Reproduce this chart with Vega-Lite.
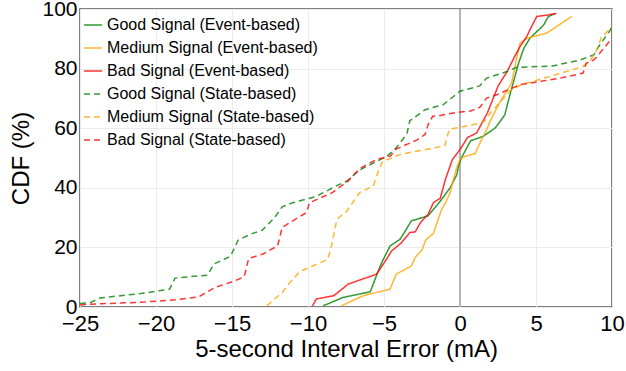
{
  "$schema": "https://vega.github.io/schema/vega-lite/v6.json",
  "width": 532,
  "height": 298,
  "autosize": "none",
  "padding": {"left": 80, "top": 9, "right": 14, "bottom": 64},
  "background": "white",
  "config": {
    "font": "Liberation Sans",
    "view": {"stroke": "#555555", "strokeWidth": 1.5},
    "axis": {
      "domain": false,
      "ticks": false,
      "grid": true,
      "gridColor": "#ececec",
      "gridWidth": 1,
      "labelColor": "black",
      "labelFontSize": 22,
      "titleColor": "black",
      "titleFontSize": 24,
      "titleFontWeight": "normal"
    }
  },
  "datasets": {
    "curves": [
      {"s": "Good Signal (Event-based)", "x": -9.0, "y": 0.4},
      {"s": "Good Signal (Event-based)", "x": -7.7, "y": 3.2},
      {"s": "Good Signal (Event-based)", "x": -5.9, "y": 5.1},
      {"s": "Good Signal (Event-based)", "x": -5.5, "y": 10.5},
      {"s": "Good Signal (Event-based)", "x": -5.15, "y": 14.9},
      {"s": "Good Signal (Event-based)", "x": -4.6, "y": 20.5},
      {"s": "Good Signal (Event-based)", "x": -3.95, "y": 22.7},
      {"s": "Good Signal (Event-based)", "x": -3.6, "y": 25.5},
      {"s": "Good Signal (Event-based)", "x": -3.2, "y": 28.9},
      {"s": "Good Signal (Event-based)", "x": -2.1, "y": 30.6},
      {"s": "Good Signal (Event-based)", "x": -1.3, "y": 35.5},
      {"s": "Good Signal (Event-based)", "x": -0.65, "y": 40},
      {"s": "Good Signal (Event-based)", "x": -0.2, "y": 44.5},
      {"s": "Good Signal (Event-based)", "x": -0.1, "y": 47.3},
      {"s": "Good Signal (Event-based)", "x": 0.1, "y": 50.1},
      {"s": "Good Signal (Event-based)", "x": 0.7, "y": 55.8},
      {"s": "Good Signal (Event-based)", "x": 1.5, "y": 57.2},
      {"s": "Good Signal (Event-based)", "x": 2.3, "y": 60},
      {"s": "Good Signal (Event-based)", "x": 2.6, "y": 62},
      {"s": "Good Signal (Event-based)", "x": 2.95, "y": 64.5},
      {"s": "Good Signal (Event-based)", "x": 3.2, "y": 69.6},
      {"s": "Good Signal (Event-based)", "x": 3.5, "y": 75.2},
      {"s": "Good Signal (Event-based)", "x": 3.85, "y": 81.8},
      {"s": "Good Signal (Event-based)", "x": 4.2, "y": 86.8},
      {"s": "Good Signal (Event-based)", "x": 4.6, "y": 90.2},
      {"s": "Good Signal (Event-based)", "x": 5.5, "y": 94.6},
      {"s": "Good Signal (Event-based)", "x": 5.8, "y": 97.4},
      {"s": "Good Signal (Event-based)", "x": 6.25, "y": 98.5},

      {"s": "Medium Signal (Event-based)", "x": -7.8, "y": 0.4},
      {"s": "Medium Signal (Event-based)", "x": -6.35, "y": 3.8},
      {"s": "Medium Signal (Event-based)", "x": -4.6, "y": 6},
      {"s": "Medium Signal (Event-based)", "x": -4.2, "y": 11},
      {"s": "Medium Signal (Event-based)", "x": -3.2, "y": 13.8},
      {"s": "Medium Signal (Event-based)", "x": -2.95, "y": 16.6},
      {"s": "Medium Signal (Event-based)", "x": -2.5, "y": 19.2},
      {"s": "Medium Signal (Event-based)", "x": -2.25, "y": 22.5},
      {"s": "Medium Signal (Event-based)", "x": -1.75, "y": 24.7},
      {"s": "Medium Signal (Event-based)", "x": -1.4, "y": 30},
      {"s": "Medium Signal (Event-based)", "x": -1.2, "y": 32.8},
      {"s": "Medium Signal (Event-based)", "x": -0.9, "y": 35.5},
      {"s": "Medium Signal (Event-based)", "x": -0.65, "y": 38.4},
      {"s": "Medium Signal (Event-based)", "x": -0.45, "y": 42.5},
      {"s": "Medium Signal (Event-based)", "x": -0.2, "y": 47},
      {"s": "Medium Signal (Event-based)", "x": 0.0, "y": 49.5},
      {"s": "Medium Signal (Event-based)", "x": 0.2, "y": 50.3},
      {"s": "Medium Signal (Event-based)", "x": 1.0, "y": 51.5},
      {"s": "Medium Signal (Event-based)", "x": 1.4, "y": 56},
      {"s": "Medium Signal (Event-based)", "x": 1.75, "y": 59.5},
      {"s": "Medium Signal (Event-based)", "x": 2.0, "y": 62.5},
      {"s": "Medium Signal (Event-based)", "x": 2.2, "y": 64.5},
      {"s": "Medium Signal (Event-based)", "x": 2.6, "y": 68.5},
      {"s": "Medium Signal (Event-based)", "x": 3.4, "y": 75.2},
      {"s": "Medium Signal (Event-based)", "x": 3.7, "y": 82.9},
      {"s": "Medium Signal (Event-based)", "x": 3.95, "y": 88.5},
      {"s": "Medium Signal (Event-based)", "x": 4.4, "y": 90.2},
      {"s": "Medium Signal (Event-based)", "x": 5.7, "y": 91.9},
      {"s": "Medium Signal (Event-based)", "x": 7.35, "y": 97.5},

      {"s": "Bad Signal (Event-based)", "x": -9.7, "y": 0.4},
      {"s": "Bad Signal (Event-based)", "x": -9.45, "y": 2.7},
      {"s": "Bad Signal (Event-based)", "x": -8.3, "y": 3.8},
      {"s": "Bad Signal (Event-based)", "x": -7.35, "y": 7.7},
      {"s": "Bad Signal (Event-based)", "x": -5.5, "y": 11},
      {"s": "Bad Signal (Event-based)", "x": -4.9, "y": 15.5},
      {"s": "Bad Signal (Event-based)", "x": -4.5, "y": 18.8},
      {"s": "Bad Signal (Event-based)", "x": -3.85, "y": 21.6},
      {"s": "Bad Signal (Event-based)", "x": -3.3, "y": 25},
      {"s": "Bad Signal (Event-based)", "x": -2.95, "y": 25.2},
      {"s": "Bad Signal (Event-based)", "x": -2.6, "y": 28.3},
      {"s": "Bad Signal (Event-based)", "x": -2.1, "y": 31.1},
      {"s": "Bad Signal (Event-based)", "x": -1.75, "y": 35},
      {"s": "Bad Signal (Event-based)", "x": -1.3, "y": 36.5},
      {"s": "Bad Signal (Event-based)", "x": -0.95, "y": 43},
      {"s": "Bad Signal (Event-based)", "x": -0.5, "y": 49.5},
      {"s": "Bad Signal (Event-based)", "x": 0.0, "y": 52.8},
      {"s": "Bad Signal (Event-based)", "x": 0.5, "y": 56.9},
      {"s": "Bad Signal (Event-based)", "x": 1.1, "y": 58.4},
      {"s": "Bad Signal (Event-based)", "x": 1.45, "y": 61.8},
      {"s": "Bad Signal (Event-based)", "x": 1.8, "y": 65.1},
      {"s": "Bad Signal (Event-based)", "x": 2.5, "y": 74.1},
      {"s": "Bad Signal (Event-based)", "x": 3.1, "y": 79},
      {"s": "Bad Signal (Event-based)", "x": 3.6, "y": 84.1},
      {"s": "Bad Signal (Event-based)", "x": 3.95, "y": 87.4},
      {"s": "Bad Signal (Event-based)", "x": 4.4, "y": 90.8},
      {"s": "Bad Signal (Event-based)", "x": 4.6, "y": 93},
      {"s": "Bad Signal (Event-based)", "x": 5.05, "y": 97.5},
      {"s": "Bad Signal (Event-based)", "x": 5.8, "y": 98},
      {"s": "Bad Signal (Event-based)", "x": 6.35, "y": 98.5},

      {"s": "Good Signal (State-based)", "x": -25, "y": 1.2},
      {"s": "Good Signal (State-based)", "x": -24.3, "y": 1.5},
      {"s": "Good Signal (State-based)", "x": -23.7, "y": 3},
      {"s": "Good Signal (State-based)", "x": -22.5, "y": 3.7},
      {"s": "Good Signal (State-based)", "x": -21, "y": 4.5},
      {"s": "Good Signal (State-based)", "x": -19.1, "y": 6},
      {"s": "Good Signal (State-based)", "x": -18.75, "y": 9.7},
      {"s": "Good Signal (State-based)", "x": -16.6, "y": 10.7},
      {"s": "Good Signal (State-based)", "x": -16.2, "y": 14.4},
      {"s": "Good Signal (State-based)", "x": -15.1, "y": 17},
      {"s": "Good Signal (State-based)", "x": -14.6, "y": 22.4},
      {"s": "Good Signal (State-based)", "x": -13.8, "y": 24.4},
      {"s": "Good Signal (State-based)", "x": -13, "y": 25.8},
      {"s": "Good Signal (State-based)", "x": -12.2, "y": 30},
      {"s": "Good Signal (State-based)", "x": -11.7, "y": 33.6},
      {"s": "Good Signal (State-based)", "x": -11, "y": 35},
      {"s": "Good Signal (State-based)", "x": -9.5, "y": 37},
      {"s": "Good Signal (State-based)", "x": -8, "y": 41},
      {"s": "Good Signal (State-based)", "x": -7.45, "y": 42.2},
      {"s": "Good Signal (State-based)", "x": -6.6, "y": 46},
      {"s": "Good Signal (State-based)", "x": -4.8, "y": 50.6},
      {"s": "Good Signal (State-based)", "x": -4.2, "y": 53.4},
      {"s": "Good Signal (State-based)", "x": -3.5, "y": 58},
      {"s": "Good Signal (State-based)", "x": -3.3, "y": 62.5},
      {"s": "Good Signal (State-based)", "x": -2.3, "y": 66.2},
      {"s": "Good Signal (State-based)", "x": -1.1, "y": 67.9},
      {"s": "Good Signal (State-based)", "x": 0, "y": 72.4},
      {"s": "Good Signal (State-based)", "x": 1.3, "y": 74.2},
      {"s": "Good Signal (State-based)", "x": 1.75, "y": 76.8},
      {"s": "Good Signal (State-based)", "x": 3.1, "y": 79},
      {"s": "Good Signal (State-based)", "x": 3.7, "y": 80.4},
      {"s": "Good Signal (State-based)", "x": 6.1, "y": 80.9},
      {"s": "Good Signal (State-based)", "x": 7.9, "y": 82.9},
      {"s": "Good Signal (State-based)", "x": 8.8, "y": 84.6},
      {"s": "Good Signal (State-based)", "x": 9.2, "y": 88},
      {"s": "Good Signal (State-based)", "x": 9.9, "y": 93},
      {"s": "Good Signal (State-based)", "x": 10, "y": 95},

      {"s": "Medium Signal (State-based)", "x": -12.7, "y": 0.4},
      {"s": "Medium Signal (State-based)", "x": -11.7, "y": 4.9},
      {"s": "Medium Signal (State-based)", "x": -11, "y": 9.4},
      {"s": "Medium Signal (State-based)", "x": -10.5, "y": 12},
      {"s": "Medium Signal (State-based)", "x": -9.8, "y": 13.5},
      {"s": "Medium Signal (State-based)", "x": -8.7, "y": 16},
      {"s": "Medium Signal (State-based)", "x": -8.45, "y": 20.5},
      {"s": "Medium Signal (State-based)", "x": -8.1, "y": 29.4},
      {"s": "Medium Signal (State-based)", "x": -7.45, "y": 32.2},
      {"s": "Medium Signal (State-based)", "x": -6.6, "y": 38.4},
      {"s": "Medium Signal (State-based)", "x": -5.7, "y": 40.6},
      {"s": "Medium Signal (State-based)", "x": -5.5, "y": 43.9},
      {"s": "Medium Signal (State-based)", "x": -5.1, "y": 48.8},
      {"s": "Medium Signal (State-based)", "x": -4.6, "y": 49.8},
      {"s": "Medium Signal (State-based)", "x": -3.95, "y": 51.2},
      {"s": "Medium Signal (State-based)", "x": -2.6, "y": 52.5},
      {"s": "Medium Signal (State-based)", "x": -1.0, "y": 54.1},
      {"s": "Medium Signal (State-based)", "x": -0.7, "y": 59.7},
      {"s": "Medium Signal (State-based)", "x": 0, "y": 60.3},
      {"s": "Medium Signal (State-based)", "x": 1.1, "y": 61.5},
      {"s": "Medium Signal (State-based)", "x": 1.6, "y": 62.3},
      {"s": "Medium Signal (State-based)", "x": 2.0, "y": 65.1},
      {"s": "Medium Signal (State-based)", "x": 3.3, "y": 72.6},
      {"s": "Medium Signal (State-based)", "x": 4.0, "y": 74.5},
      {"s": "Medium Signal (State-based)", "x": 5.5, "y": 76.8},
      {"s": "Medium Signal (State-based)", "x": 7.0, "y": 79},
      {"s": "Medium Signal (State-based)", "x": 8.1, "y": 80.7},
      {"s": "Medium Signal (State-based)", "x": 8.6, "y": 82.9},
      {"s": "Medium Signal (State-based)", "x": 9.0, "y": 86.3},
      {"s": "Medium Signal (State-based)", "x": 9.3, "y": 90.5},
      {"s": "Medium Signal (State-based)", "x": 10, "y": 94},

      {"s": "Bad Signal (State-based)", "x": -25, "y": 0.7},
      {"s": "Bad Signal (State-based)", "x": -23.6, "y": 1.1},
      {"s": "Bad Signal (State-based)", "x": -21, "y": 1.6},
      {"s": "Bad Signal (State-based)", "x": -18.75, "y": 2.4},
      {"s": "Bad Signal (State-based)", "x": -17.2, "y": 3.4},
      {"s": "Bad Signal (State-based)", "x": -16.1, "y": 6.6},
      {"s": "Bad Signal (State-based)", "x": -14.8, "y": 8.8},
      {"s": "Bad Signal (State-based)", "x": -14.2, "y": 10.2},
      {"s": "Bad Signal (State-based)", "x": -13.9, "y": 16.3},
      {"s": "Bad Signal (State-based)", "x": -13, "y": 17.7},
      {"s": "Bad Signal (State-based)", "x": -12, "y": 20.5},
      {"s": "Bad Signal (State-based)", "x": -11.7, "y": 26.7},
      {"s": "Bad Signal (State-based)", "x": -11, "y": 28.9},
      {"s": "Bad Signal (State-based)", "x": -10.1, "y": 31.7},
      {"s": "Bad Signal (State-based)", "x": -9.9, "y": 35},
      {"s": "Bad Signal (State-based)", "x": -8.4, "y": 38.4},
      {"s": "Bad Signal (State-based)", "x": -7.35, "y": 42.3},
      {"s": "Bad Signal (State-based)", "x": -7.1, "y": 43.9},
      {"s": "Bad Signal (State-based)", "x": -6.5, "y": 46.7},
      {"s": "Bad Signal (State-based)", "x": -5.5, "y": 49.5},
      {"s": "Bad Signal (State-based)", "x": -4.6, "y": 50.6},
      {"s": "Bad Signal (State-based)", "x": -4.2, "y": 53},
      {"s": "Bad Signal (State-based)", "x": -2.85, "y": 56},
      {"s": "Bad Signal (State-based)", "x": -2.3, "y": 57.9},
      {"s": "Bad Signal (State-based)", "x": -2.1, "y": 61.2},
      {"s": "Bad Signal (State-based)", "x": -1.8, "y": 64},
      {"s": "Bad Signal (State-based)", "x": -1.3, "y": 64.3},
      {"s": "Bad Signal (State-based)", "x": -0.45, "y": 65.1},
      {"s": "Bad Signal (State-based)", "x": 0.7, "y": 65.8},
      {"s": "Bad Signal (State-based)", "x": 1.3, "y": 67},
      {"s": "Bad Signal (State-based)", "x": 1.75, "y": 70.1},
      {"s": "Bad Signal (State-based)", "x": 2.4, "y": 71.2},
      {"s": "Bad Signal (State-based)", "x": 3.95, "y": 74.6},
      {"s": "Bad Signal (State-based)", "x": 6.6, "y": 76.8},
      {"s": "Bad Signal (State-based)", "x": 8.1, "y": 78.5},
      {"s": "Bad Signal (State-based)", "x": 8.3, "y": 81.8},
      {"s": "Bad Signal (State-based)", "x": 8.8, "y": 82.9},
      {"s": "Bad Signal (State-based)", "x": 9.2, "y": 85.2},
      {"s": "Bad Signal (State-based)", "x": 10, "y": 90.2}
    ],
    "zero": [{"x": 0}]
  },
  "layer": [
    {
      "data": {"name": "zero"},
      "mark": {"type": "rule", "color": "#b3b3b3", "strokeWidth": 2},
      "encoding": {
        "x": {"field": "x", "type": "quantitative"}
      }
    },
    {
      "data": {"name": "curves"},
      "mark": {"type": "line", "strokeWidth": 1.5, "opacity": 0.8, "clip": true},
      "encoding": {
        "x": {
          "field": "x",
          "type": "quantitative",
          "scale": {"domain": [-25, 10], "nice": false, "zero": false},
          "axis": {
            "title": "5-second Interval Error (mA)",
            "values": [-25, -20, -15, -10, -5, 0, 5, 10],
            "labelPadding": 6,
            "titlePadding": 3,
            "labelFlush": false
          }
        },
        "y": {
          "field": "y",
          "type": "quantitative",
          "scale": {"domain": [0, 100], "nice": false},
          "axis": {
            "title": "CDF (%)",
            "values": [0, 20, 40, 60, 80, 100],
            "labelFontSize": 21,
            "labelPadding": 3,
            "titlePadding": 8
          }
        },
        "order": {"field": "y", "type": "quantitative"},
        "color": {
          "field": "s",
          "type": "nominal",
          "scale": {
            "domain": ["Good Signal (Event-based)", "Medium Signal (Event-based)", "Bad Signal (Event-based)", "Good Signal (State-based)", "Medium Signal (State-based)", "Bad Signal (State-based)"],
            "range": ["#008000", "#FFA500", "#FF0000", "#008000", "#FFA500", "#FF0000"]
          },
          "legend": {
            "title": null,
            "orient": "none",
            "legendX": 3,
            "legendY": 6,
            "symbolType": "stroke",
            "symbolSize": 324,
            "symbolStrokeWidth": 1.5,
            "symbolOpacity": 0.8,
            "labelFontSize": 16,
            "labelColor": "black",
            "labelOffset": 4,
            "rowPadding": 5,
            "padding": 0,
            "labelLimit": 400
          }
        },
        "strokeDash": {
          "field": "s",
          "type": "nominal",
          "scale": {
            "domain": ["Good Signal (Event-based)", "Medium Signal (Event-based)", "Bad Signal (Event-based)", "Good Signal (State-based)", "Medium Signal (State-based)", "Bad Signal (State-based)"],
            "range": [[1, 0], [1, 0], [1, 0], [6, 4], [6, 4], [6, 4]]
          },
          "legend": {
            "title": null,
            "orient": "none",
            "legendX": 3,
            "legendY": 6,
            "symbolType": "stroke",
            "symbolSize": 324,
            "labelFontSize": 16,
            "labelOffset": 4,
            "rowPadding": 5,
            "padding": 0,
            "labelLimit": 400
          }
        }
      }
    }
  ]
}
